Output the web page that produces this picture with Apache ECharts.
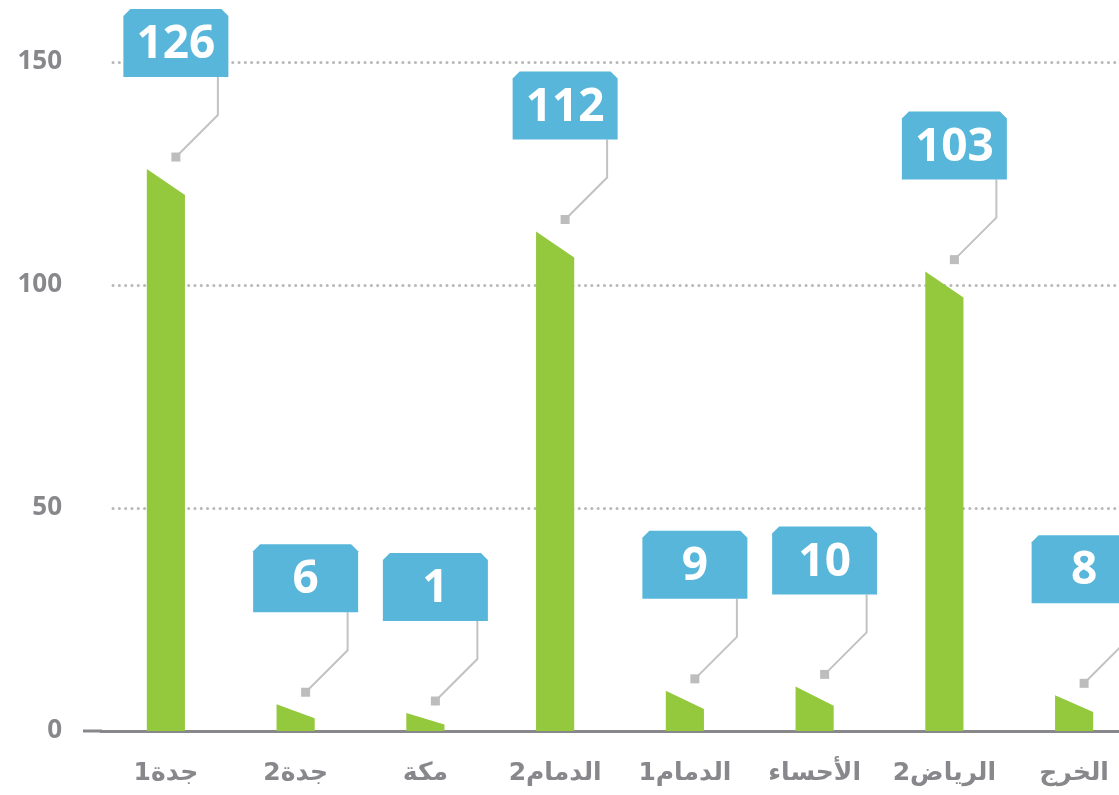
<!DOCTYPE html>
<html>
<head>
<meta charset="utf-8">
<script src="https://cdn.jsdelivr.net/npm/echarts@6/dist/echarts.min.js"></script>
<style>
  html, body { margin: 0; padding: 0; background: #fff; }
  #main { width: 1119px; height: 795px; }
</style>
</head>
<body>
<div id="main"></div>
<script>
const categories = ["جدة1", "جدة2", "مكة", "الدمام2", "الدمام1", "الأحساء", "الرياض2", "الخرج"];
const values = [126, 6, 1, 112, 9, 10, 103, 8];
const yTicks = [0, 50, 100, 150];

const BAR_COLOR = "#94c83d";
const BOX_COLOR = "#57b6da";
const GREY = "#88888c";
const GRID_TOP = 62;
const GRID_BOTTOM = 64;
const BAR_GRID_LEFT = 101;
const BAR_GRID_WIDTH = 1038; // runs past the right edge, last label is cut off

// bar with slanted top + callout label above it
function renderBar(params, api) {
  const idx = api.value(0);
  const v = api.value(1);
  const base = api.coord([idx, 0]);
  const top = api.coord([idx, v]);
  const band = api.size([1, 0])[0];
  const half = band * 0.147;
  const cx = base[0];
  const y0 = base[1];
  const leftTop = Math.min(top[1], y0 - 18);
  const h = y0 - leftTop;
  const slant = Math.min(26, 6 + h * 0.3);

  const dotX = cx + 10;
  const dotY = leftTop - 12;
  const boxB = dotY - 80;
  const boxT = boxB - 68;
  const boxL = dotX - 52.5;
  const boxR = dotX + 52.5;
  const c = 7; // chamfer

  return {
    type: "group",
    children: [
      {
        type: "polygon",
        shape: { points: [[cx - half, y0], [cx - half, leftTop], [cx + half, leftTop + slant], [cx + half, y0]] },
        style: { fill: BAR_COLOR },
      },
      {
        type: "polyline",
        shape: { points: [[dotX + 42, boxB], [dotX + 42, boxB + 38], [dotX, dotY]] },
        style: { stroke: "#c2c2c2", lineWidth: 2, fill: null },
      },
      {
        type: "rect",
        shape: { x: dotX - 4.5, y: dotY - 4.5, width: 9, height: 9 },
        style: { fill: "#bdbdbd" },
      },
      {
        type: "polygon",
        shape: {
          points: [[boxL, boxB], [boxL, boxT + c], [boxL + c, boxT], [boxR - c, boxT], [boxR, boxT + c], [boxR, boxB]],
        },
        style: { fill: BOX_COLOR },
      },
      {
        type: "text",
        style: {
          text: String(v),
          x: dotX,
          y: (boxT + boxB) / 2 + 2,
          align: "center",
          verticalAlign: "middle",
          fill: "#fff",
          fontSize: 46,
          fontWeight: "bold",
          fontFamily: "Open Sans",
        },
      },
    ],
  };
}

const chart = echarts.init(document.getElementById("main"), null, { renderer: "canvas" });

const option = {
  animation: false,
  grid: [
    { left: 113, right: 0, top: GRID_TOP, bottom: GRID_BOTTOM },
    {
      left: BAR_GRID_LEFT,
      width: BAR_GRID_WIDTH,
      top: GRID_TOP,
      bottom: GRID_BOTTOM,
      outerBoundsMode: "none",
      containLabel: false,
    },
  ],
  xAxis: [
    { gridIndex: 0, type: "value", show: false },
    {
      gridIndex: 1,
      type: "category",
      data: categories,
      axisLine: { show: true, lineStyle: { color: GREY, width: 3 } },
      axisTick: { show: false },
      axisLabel: {
        interval: 0,
        margin: 30,
        color: GREY,
        fontSize: 25,
        fontWeight: "bold",
        fontFamily: "DejaVu Sans",
      },
    },
  ],
  yAxis: [
    {
      gridIndex: 0,
      type: "value",
      min: yTicks[0],
      max: yTicks[yTicks.length - 1],
      interval: yTicks[1] - yTicks[0],
      axisLine: { show: false },
      axisTick: { show: false },
      axisLabel: {
        margin: 51,
        color: GREY,
        fontSize: 26,
        fontWeight: "bold",
        fontFamily: "Open Sans",
      },
      splitLine: {
        show: true,
        lineStyle: { color: "#b9b9b9", width: 3, type: [0.1, 6.2], cap: "round" },
      },
    },
    {
      gridIndex: 1,
      type: "value",
      min: yTicks[0],
      max: yTicks[yTicks.length - 1],
      interval: yTicks[1] - yTicks[0],
      show: false,
      splitLine: { show: false },
    },
  ],
  series: [
    {
      type: "custom",
      xAxisIndex: 1,
      yAxisIndex: 1,
      clip: false,
      renderItem: renderBar,
      encode: { x: 0, y: 1 },
      data: values.map((v, i) => [i, v]),
      z: 3,
    },
  ],
};

chart.setOption(option);

// x axis line starts a bit left of the first category band
const zeroY = chart.convertToPixel({ yAxisIndex: 1 }, 0);
chart.setOption({
  graphic: [
    {
      type: "line",
      shape: { x1: 83, y1: zeroY, x2: BAR_GRID_LEFT + 1, y2: zeroY },
      style: { stroke: GREY, lineWidth: 3 },
      z: 5,
    },
  ],
});
</script>
</body>
</html>
